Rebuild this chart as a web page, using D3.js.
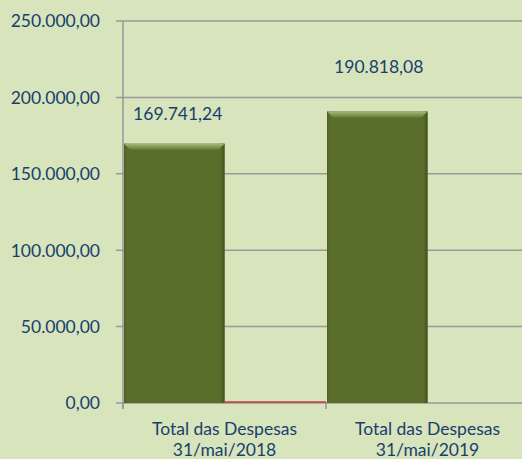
<!DOCTYPE html>
<html>
<head>
<meta charset="utf-8">
<script src="https://cdn.jsdelivr.net/npm/d3@7"></script>
<style>
  html, body { margin: 0; padding: 0; background: #d8e4bc; overflow: hidden; }
  svg { display: block; }
  text { font-family: Lato, "Noto Sans", sans-serif; fill: #17406e; }
</style>
</head>
<body>
<div id="chart"></div>
<script>
// data
const categories = ['Total das Despesas\n31/mai/2018', 'Total das Despesas\n31/mai/2019'];
const seriesNames = ['Despesas', 'Outros'];
const despesas = [169741.24, 190818.08];
const outros = [1200, 0];
const yTicks = [0, 50000, 100000, 150000, 200000, 250000];

const width = 522;
const height = 459;
const margin = { top: 21, right: -7, bottom: 56, left: 123 };

const locale = d3.formatLocale({ decimal: ',', thousands: '.', grouping: [3], currency: ['R$', ''] });
const fmt = locale.format(',.2f');

const svg = d3.select('#chart').append('svg')
  .attr('width', width)
  .attr('height', height);

const defs = svg.append('defs');

// bevel look for the green bars
const topGrad = defs.append('linearGradient').attr('id', 'bevelTop')
  .attr('x1', 0).attr('y1', 0).attr('x2', 0).attr('y2', 1);
topGrad.append('stop').attr('offset', 0).attr('stop-color', '#a3b97a');
topGrad.append('stop').attr('offset', 0.5).attr('stop-color', '#7f9552');
topGrad.append('stop').attr('offset', 1).attr('stop-color', '#5a6e2c');

const sideGrad = defs.append('linearGradient').attr('id', 'bevelSide')
  .attr('x1', 0).attr('y1', 0).attr('x2', 1).attr('y2', 0);
sideGrad.append('stop').attr('offset', 0).attr('stop-color', '#4a5c22').attr('stop-opacity', 0.9);
sideGrad.append('stop').attr('offset', 0.04).attr('stop-color', '#5a6e2c').attr('stop-opacity', 0);
sideGrad.append('stop').attr('offset', 0.94).attr('stop-color', '#5a6e2c').attr('stop-opacity', 0);
sideGrad.append('stop').attr('offset', 1).attr('stop-color', '#3e4d1b').attr('stop-opacity', 1);

const x = d3.scaleBand()
  .domain(categories)
  .range([margin.left, width - margin.right])
  .paddingInner(0)
  .paddingOuter(0);

const xSub = d3.scaleBand()
  .domain(seriesNames)
  .range([0, x.bandwidth()])
  .padding(0);

const y = d3.scaleLinear()
  .domain([0, 250000])
  .range([height - margin.bottom, margin.top]);

// gridlines
svg.append('g')
  .selectAll('line')
  .data(yTicks)
  .enter()
  .append('line')
  .attr('x1', margin.left - 7)
  .attr('x2', width)
  .attr('y1', (d) => y(d))
  .attr('y2', (d) => y(d))
  .attr('stroke', '#999')
  .attr('stroke-width', 1.5);

// y axis line
svg.append('line')
  .attr('x1', margin.left).attr('x2', margin.left)
  .attr('y1', y(250000)).attr('y2', y(0) + 6)
  .attr('stroke', '#999')
  .attr('stroke-width', 1.5);

// category ticks on x axis
svg.append('g')
  .selectAll('line')
  .data(categories)
  .enter()
  .append('line')
  .attr('x1', (d) => x(d))
  .attr('x2', (d) => x(d))
  .attr('y1', y(0))
  .attr('y2', y(0) + 6)
  .attr('stroke', '#999')
  .attr('stroke-width', 1.5);

// y tick labels
svg.append('g')
  .selectAll('text')
  .data(yTicks)
  .enter()
  .append('text')
  .attr('x', 100)
  .attr('y', (d) => y(d))
  .attr('dy', '0.36em')
  .attr('text-anchor', 'end')
  .style('font-size', '17.5px')
  .text((d) => fmt(d));

// green bars
const bars = svg.append('g')
  .selectAll('g')
  .data(despesas)
  .enter()
  .append('g')
  .attr('transform', (d, i) => `translate(${x(categories[i]) + xSub('Despesas') + 1},0)`);

const bw = xSub.bandwidth() - 1;

bars.append('rect')
  .attr('x', 0)
  .attr('y', (d) => y(d))
  .attr('width', bw)
  .attr('height', (d) => y(0) - y(d))
  .attr('fill', '#5a6e2c');

bars.append('rect')
  .attr('x', 0)
  .attr('y', (d) => y(d))
  .attr('width', bw)
  .attr('height', (d) => y(0) - y(d))
  .attr('fill', 'url(#bevelSide)');

bars.append('path')
  .attr('d', (d) => {
    const t = y(d);
    return `M0,${t}H${bw}L${bw - 7},${t + 7}H7Z`;
  })
  .attr('fill', 'url(#bevelTop)');

// red series
svg.append('g')
  .selectAll('rect')
  .data(outros)
  .enter()
  .append('rect')
  .attr('x', (d, i) => x(categories[i]) + xSub('Outros'))
  .attr('y', (d) => y(d))
  .attr('width', xSub.bandwidth())
  .attr('height', (d) => y(0) - y(d))
  .attr('fill', '#c0504d');

// value labels
const labelOffsets = [{ dx: 4, dy: -24 }, { dx: 2, dy: -38 }];
svg.append('g')
  .selectAll('text')
  .data(despesas)
  .enter()
  .append('text')
  .attr('x', (d, i) => x(categories[i]) + xSub('Despesas') + xSub.bandwidth() / 2 + labelOffsets[i].dx)
  .attr('y', (d, i) => y(d) + labelOffsets[i].dy)
  .attr('text-anchor', 'middle')
  .style('font-size', '17.5px')
  .text((d) => fmt(d));

// category labels
const catLabels = svg.append('g')
  .selectAll('text')
  .data(categories)
  .enter()
  .append('text')
  .attr('text-anchor', 'middle')
  .style('font-size', '17.5px')
  .attr('transform', (d) => `translate(${x(d) + x.bandwidth() / 2},435)`);

catLabels.selectAll('tspan')
  .data((d) => d.split('\n'))
  .enter()
  .append('tspan')
  .attr('x', 0)
  .attr('y', (d, i) => i * 21)
  .text((d) => d);
</script>
</body>
</html>
